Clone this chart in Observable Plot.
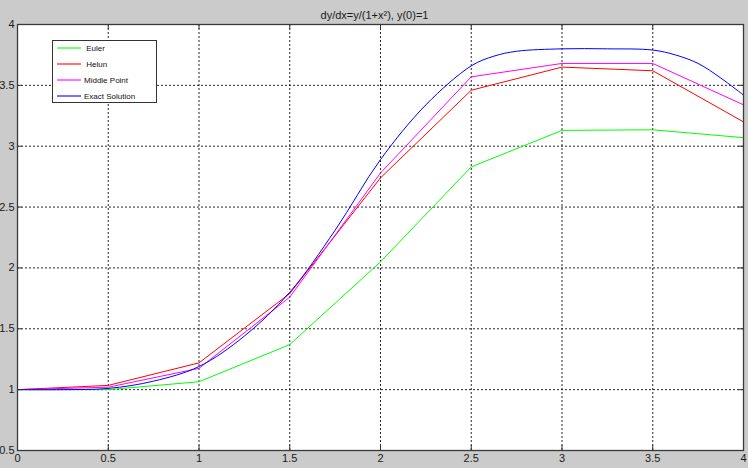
<!DOCTYPE html>
<html>
<head>
<meta charset="utf-8">
<script src="https://cdn.jsdelivr.net/npm/d3@7"></script>
<script src="https://cdn.jsdelivr.net/npm/@observablehq/plot@0.6"></script>
<style>
  html, body { margin: 0; padding: 0; background: #cbcbcb; }
  #wrap { position: relative; width: 748px; height: 468px; overflow: hidden; }
  #legend { position: absolute; left: 52px; top: 40px; }
</style>
</head>
<body>
<div id="wrap"><div id="chart"></div><div id="legend"></div></div>
<script>
const titleText = "dy/dx=y/(1+x²), y(0)=1";
const xTicks = [0, 0.5, 1, 1.5, 2, 2.5, 3, 3.5, 4];
const yTicks = [0.5, 1, 1.5, 2, 2.5, 3, 3.5, 4];
const xLabels = ["0", "0.5", "1", "1.5", "2", "2.5", "3", "3.5", "4"];
const yLabels = ["0.5", "1", "1.5", "2", "2.5", "3", "3.5", "4"];

const stepX = [0, 0.5, 1, 1.5, 2, 2.5, 3, 3.5, 4];
const euler    = [1.00, 1.00, 1.065, 1.37, 2.05, 2.83, 3.13, 3.135, 3.07];
const heun     = [1.00, 1.035, 1.22, 1.79, 2.74, 3.46, 3.65, 3.62, 3.20];
const midpoint = [1.00, 1.02, 1.175, 1.76, 2.78, 3.57, 3.68, 3.68, 3.34];

const exactX = [0, 0.25, 0.5, 0.75, 1, 1.25, 1.5, 1.75, 2, 2.25, 2.5, 2.625, 2.75, 3, 3.25, 3.5, 3.625, 3.75, 3.875, 4];
const exactY = [1.00, 1.00, 1.01, 1.07, 1.19, 1.44, 1.80, 2.31, 2.89, 3.34, 3.66, 3.74, 3.78, 3.80, 3.80, 3.79, 3.75, 3.68, 3.56, 3.42];

const seriesNames = [" Euler", " Helun", "Middle Point", "Exact Solution"];
const seriesColors = ["#00ff00", "#ff0000", "#ff00ff", "#0000ff"];

const steps = [];
[euler, heun, midpoint].forEach((arr, k) => arr.forEach((v, i) => steps.push({x: stepX[i], y: v, s: seriesNames[k]})));
const exact = exactX.map((x, i) => ({x, y: exactY[i]}));

const W = 748, H = 468, mL = 17, mR = 5, mT = 24, mB = 18;
const pw = W - mL - mR, ph = H - mT - mB;
const fontTicks = "'Liberation Sans Narrow', 'Liberation Sans', Arial, sans-serif";

const chart = Plot.plot({
  width: W, height: H,
  marginLeft: mL, marginRight: mR, marginTop: mT, marginBottom: mB,
  style: {background: "#cbcbcb", fontFamily: fontTicks, fontSize: "11px", color: "#1a1a1a"},
  x: {domain: [0, 4], label: null},
  y: {domain: [0.5, 4], label: null},
  color: {domain: seriesNames, range: seriesColors},
  marks: [
    Plot.frame({fill: "white", stroke: null}),
    Plot.gridX(xTicks.slice(1, -1), {stroke: "#000", strokeOpacity: 0.85, strokeDasharray: "2,2"}),
    Plot.gridY(yTicks.slice(1, -1), {stroke: "#000", strokeOpacity: 0.85, strokeDasharray: "2,2"}),
    Plot.line(steps, {x: "x", y: "y", z: "s", stroke: "s", strokeWidth: 1}),
    Plot.line(exact, {x: "x", y: "y", stroke: seriesColors[3], strokeWidth: 1, curve: "catmull-rom"}),
    Plot.tickX(xTicks, {x: d => d, stroke: "#333", insetTop: ph - 5}),
    Plot.tickX(xTicks, {x: d => d, stroke: "#333", insetBottom: ph - 5}),
    Plot.tickY(yTicks, {y: d => d, stroke: "#333", insetRight: pw - 5}),
    Plot.tickY(yTicks, {y: d => d, stroke: "#333", insetLeft: pw - 5}),
    Plot.frame({stroke: "#3a3a3a", strokeWidth: 1.3}),
    Plot.axisX(xTicks, {anchor: "bottom", tickSize: 0, tickPadding: 4, tickFormat: (d, i) => xLabels[i], label: null}),
    Plot.axisY(yTicks, {anchor: "left", tickSize: 0, tickPadding: 3, tickFormat: (d, i) => yLabels[i], label: null}),
    Plot.text([titleText], {frameAnchor: "top", dy: -13, dx: -6, fontSize: 11, fill: "#1a1a1a"})
  ]
});
document.getElementById("chart").append(chart);

// legend
const lg = d3.select("#legend").append("svg").attr("width", 106).attr("height", 64);
lg.append("rect").attr("x", 0.5).attr("y", 0.5).attr("width", 104).attr("height", 62)
  .attr("fill", "white").attr("stroke", "#333").attr("stroke-width", 1);
const rows = lg.selectAll("g").data(seriesNames).join("g")
  .attr("transform", (d, i) => `translate(0, ${8 + i * 16})`);
rows.append("line").attr("x1", 5).attr("x2", 29).attr("y1", 0).attr("y2", 0)
  .attr("stroke", (d, i) => seriesColors[i]).attr("stroke-width", 2).attr("stroke-opacity", 0.55);
rows.append("text").attr("x", 32).attr("y", 0).attr("dy", "0.35em")
  .style("white-space", "pre").attr("xml:space", "preserve")
  .attr("font-family", "'Liberation Sans', Arial, sans-serif").attr("font-size", 8).attr("fill", "#111")
  .text(d => d);
</script>
</body>
</html>
